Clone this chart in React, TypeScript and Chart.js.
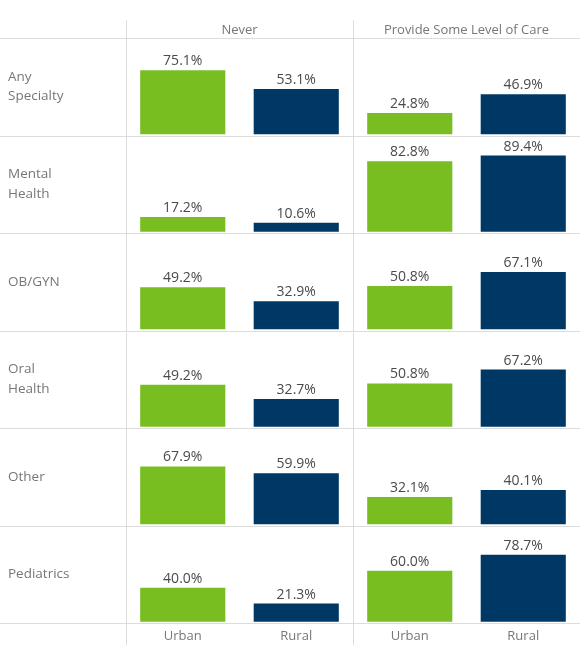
import React, { useEffect, useRef } from 'react';
import { Chart, registerables } from 'chart.js';

Chart.register(...registerables);

// ---- data ----
const specialties: string[][] = [
  ['Any', 'Specialty'],
  ['Mental', 'Health'],
  ['OB/GYN'],
  ['Oral', 'Health'],
  ['Other'],
  ['Pediatrics'],
];
const responses = ['Never', 'Provide Some Level of Care'];
const settings = ['Urban', 'Rural'];
// order: Never-Urban, Never-Rural, Provide-Urban, Provide-Rural
const anySpecialty = [75.1, 53.1, 24.8, 46.9];
const mentalHealth = [17.2, 10.6, 82.8, 89.4];
const obGyn = [49.2, 32.9, 50.8, 67.1];
const oralHealth = [49.2, 32.7, 50.8, 67.2];
const other = [67.9, 59.9, 32.1, 40.1];
const pediatrics = [40.0, 21.3, 60.0, 78.7];
const rows = [anySpecialty, mentalHealth, obGyn, oralHealth, other, pediatrics];

const GREEN = '#78BE21';
const NAVY = '#003865';
const FONT = '"Open Sans", "Noto Sans", sans-serif';

export default function App() {
  const ref = useRef<HTMLCanvasElement | null>(null);

  useEffect(() => {
    document.body.style.margin = '0';
    const canvas = ref.current!;
    const labels = responses.flatMap(() => settings);
    const colors = responses.flatMap(() => [GREEN, NAVY]);

    const datasets = rows.map((vals, i) => ({
      label: specialties[i].join(' '),
      data: vals,
      yAxisID: 'y' + i,
      backgroundColor: colors,
      grouped: false,
      categoryPercentage: 1,
      barPercentage: 0.75,
    }));

    const scales: any = {
      x: { display: false, offset: true },
    };
    rows.forEach((_, i) => {
      scales['y' + i] = {
        display: false,
        position: 'right',
        stack: 'rows',
        stackWeight: 1,
        min: -1.5,
        max: 113,
      };
    });

    const decor = {
      id: 'decor',
      beforeDatasetsDraw(chart: any) {
        const ctx = chart.ctx;
        const area = chart.chartArea;
        const xs = chart.scales.x;
        ctx.save();
        ctx.strokeStyle = '#dcdcdc';
        ctx.lineWidth = 1;
        // horizontal lines
        const ys = new Set<number>();
        rows.forEach((_, i) => {
          const s = chart.scales['y' + i];
          ys.add(Math.round(s.top));
          ys.add(Math.round(s.bottom));
        });
        ys.forEach((y) => {
          ctx.beginPath();
          ctx.moveTo(0, y + 0.5);
          ctx.lineTo(chart.width, y + 0.5);
          ctx.stroke();
        });
        // vertical pane separators
        const half = (xs.getPixelForValue(1) - xs.getPixelForValue(0)) / 2;
        const seps = [area.left, xs.getPixelForValue(1) + half];
        seps.forEach((x) => {
          ctx.beginPath();
          ctx.moveTo(Math.round(x) + 0.5, 20);
          ctx.lineTo(Math.round(x) + 0.5, 645);
          ctx.stroke();
        });
        // headers
        ctx.fillStyle = '#777';
        ctx.font = `13px ${FONT}`;
        ctx.textAlign = 'center';
        ctx.textBaseline = 'middle';
        responses.forEach((r, j) => {
          const x = (xs.getPixelForValue(j * 2) + xs.getPixelForValue(j * 2 + 1)) / 2;
          ctx.fillText(r, x, 30);
        });
        // bottom labels
        labels.forEach((l, k) => {
          ctx.fillText(l, xs.getPixelForValue(k), 636);
        });
        // row labels
        ctx.textAlign = 'left';
        ctx.font = `13.5px ${FONT}`;
        rows.forEach((_, i) => {
          const s = chart.scales['y' + i];
          const mid = (s.top + s.bottom) / 2;
          const lines = specialties[i];
          const lh = 19.5;
          lines.forEach((t, k) => {
            ctx.fillText(t, 8, mid + (k - (lines.length - 1) / 2) * lh);
          });
        });
        ctx.restore();
      },
      afterDatasetsDraw(chart: any) {
        const ctx = chart.ctx;
        ctx.save();
        ctx.fillStyle = '#4a4a4a';
        ctx.font = `14px ${FONT}`;
        ctx.textAlign = 'center';
        ctx.textBaseline = 'alphabetic';
        chart.data.datasets.forEach((ds: any, i: number) => {
          const meta = chart.getDatasetMeta(i);
          meta.data.forEach((el: any, k: number) => {
            ctx.fillText(ds.data[k].toFixed(1) + '%', el.x, el.y - 5);
          });
        });
        ctx.restore();
      },
    };

    const chart = new Chart(canvas, {
      type: 'bar',
      data: { labels, datasets },
      options: {
        responsive: false,
        animation: false,
        devicePixelRatio: 1,
        layout: { padding: { left: 126, top: 38, right: 0, bottom: 41 } },
        plugins: { legend: { display: false }, tooltip: { enabled: false } },
        scales,
      },
      plugins: [decor],
    });
    return () => chart.destroy();
  }, []);

  return (
    <div style={{ position: 'absolute', left: 0, top: 0, width: 580, height: 664 }}>
      <canvas ref={ref} width={580} height={664} />
    </div>
  );
}
